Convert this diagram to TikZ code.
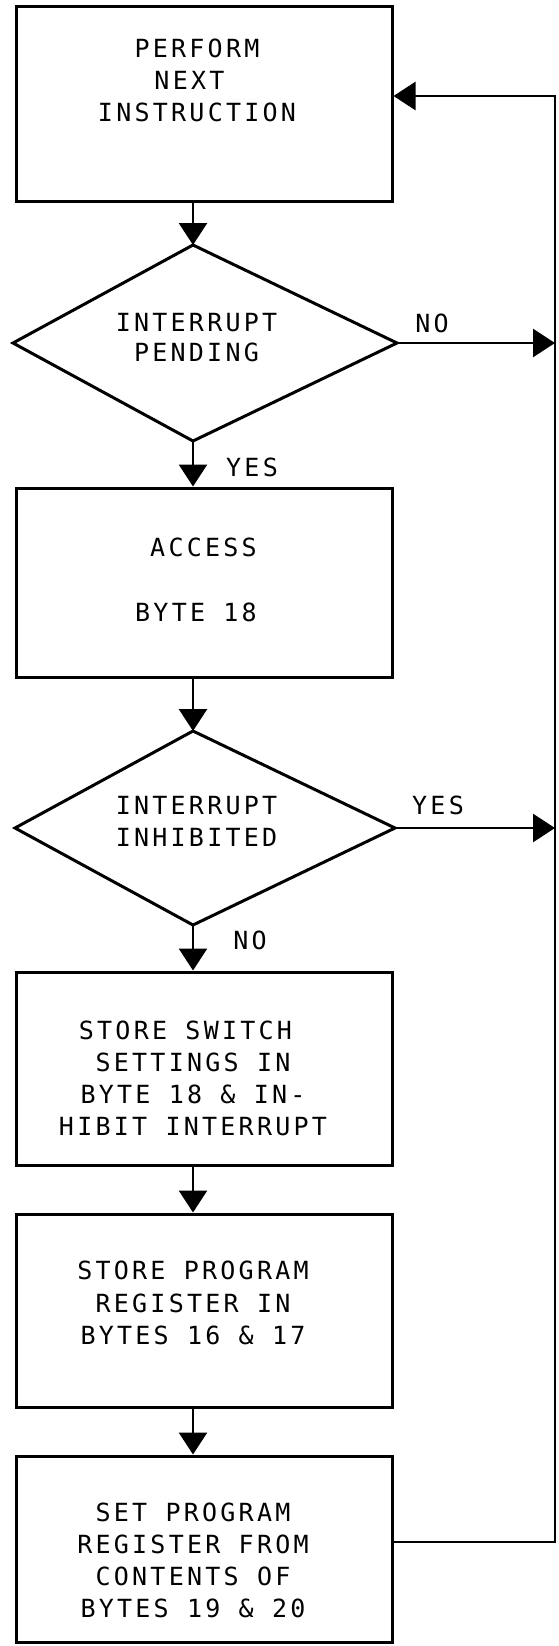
\documentclass[tikz,border=0pt]{standalone}
\usepackage{fontspec}
\usetikzlibrary{arrows.meta}
\newfontfamily\plotfont[LetterSpace=13]{DejaVu Sans Mono}
\tikzset{
  boxshape/.style={draw, line width=3pt, minimum width=376pt, inner sep=0pt},
  decshape/.style={draw, line width=3pt, line join=miter},
  conn/.style={line width=2.6pt, -{Triangle[length=22pt,width=28pt]}},
  txt/.style={font=\plotfont\fontsize{25}{32}\selectfont, align=center, inner sep=0pt},
  lbl/.style={font=\plotfont\fontsize{25}{32}\selectfont, inner sep=0pt}
}
\begin{document}
\begin{tikzpicture}[x=1pt,y=-1pt]
\useasboundingbox (0,0) rectangle (558,1646);
% boxes
\node[boxshape, minimum height=194pt] (b1) at (204,104) {};
\node[boxshape, minimum height=189pt] (b2) at (204,582.5) {};
\node[boxshape, minimum height=193pt] (b3) at (204,1068.5) {};
\node[boxshape, minimum height=193pt] (b4) at (204,1310.5) {};
\node[boxshape, minimum height=186pt] (b5) at (204,1549) {};
% diamonds
\coordinate (d1t) at (193,245);
\coordinate (d1l) at (13,343);
\coordinate (d1r) at (397,343);
\coordinate (d1b) at (193,441);
\coordinate (d2t) at (193,731);
\coordinate (d2l) at (15,828);
\coordinate (d2r) at (395,828);
\coordinate (d2b) at (193,925);
\draw[decshape] (d1t) -- (d1r) -- (d1b) -- (d1l) -- cycle;
\draw[decshape] (d2t) -- (d2r) -- (d2b) -- (d2l) -- cycle;
% right return line
\coordinate (ret) at (555,1542);
\coordinate (top) at (555,96);
% texts
\node[txt] (t1) at (197,80) {PERFORM\\NEXT\phantom{X}\\INSTRUCTION};
\node[txt] (t2) at (196,580) {\phantom{X}ACCESS\\[33pt]BYTE 18};
\node[txt, font=\plotfont\fontsize{25}{30}\selectfont] (td1) at (196.5,338) {INTERRUPT\\PENDING};
\node[txt] (td2) at (196.5,821) {INTERRUPT\\INHIBITED};
\node[txt] (t3) at (193,1078) {STORE SWITCH\phantom{X}\\SETTINGS IN\\BYTE 18 \& IN-\\HIBIT INTERRUPT};
\node[txt, font=\plotfont\fontsize{25}{32.5}\selectfont] (t4) at (193,1303) {STORE PROGRAM\\REGISTER IN\\BYTES 16 \& 17};
\node[txt] (t5) at (193,1560) {SET PROGRAM\\REGISTER FROM\\CONTENTS OF\\BYTES 19 \& 20};
% labels
\node[lbl] (no1) at (432,323) {NO};
\node[lbl] (yes1) at (252,467) {YES};
\node[lbl] (yes2) at (438,805) {YES};
\node[lbl] (no2) at (250,940) {NO};
% connectors
\draw[conn] (b1.south -| d1t) -- (d1t);
\draw[conn] (d1b) -- (b2.north -| d1b);
\draw[conn] (b2.south -| d2t) -- (d2t);
\draw[conn] (d2b) -- (b3.north -| d2b);
\draw[conn] (b3.south -| d2b) -- (b4.north -| d2b);
\draw[conn] (b4.south -| d2b) -- (b5.north -| d2b);
\draw[conn] (d1r) -- (d1r -| top);
\draw[conn] (d2r) -- (d2r -| top);
\draw[conn, line join=miter] (b5.east |- ret) -- (ret) -- (top) -- (b1.east |- top);
\end{tikzpicture}
\end{document}
